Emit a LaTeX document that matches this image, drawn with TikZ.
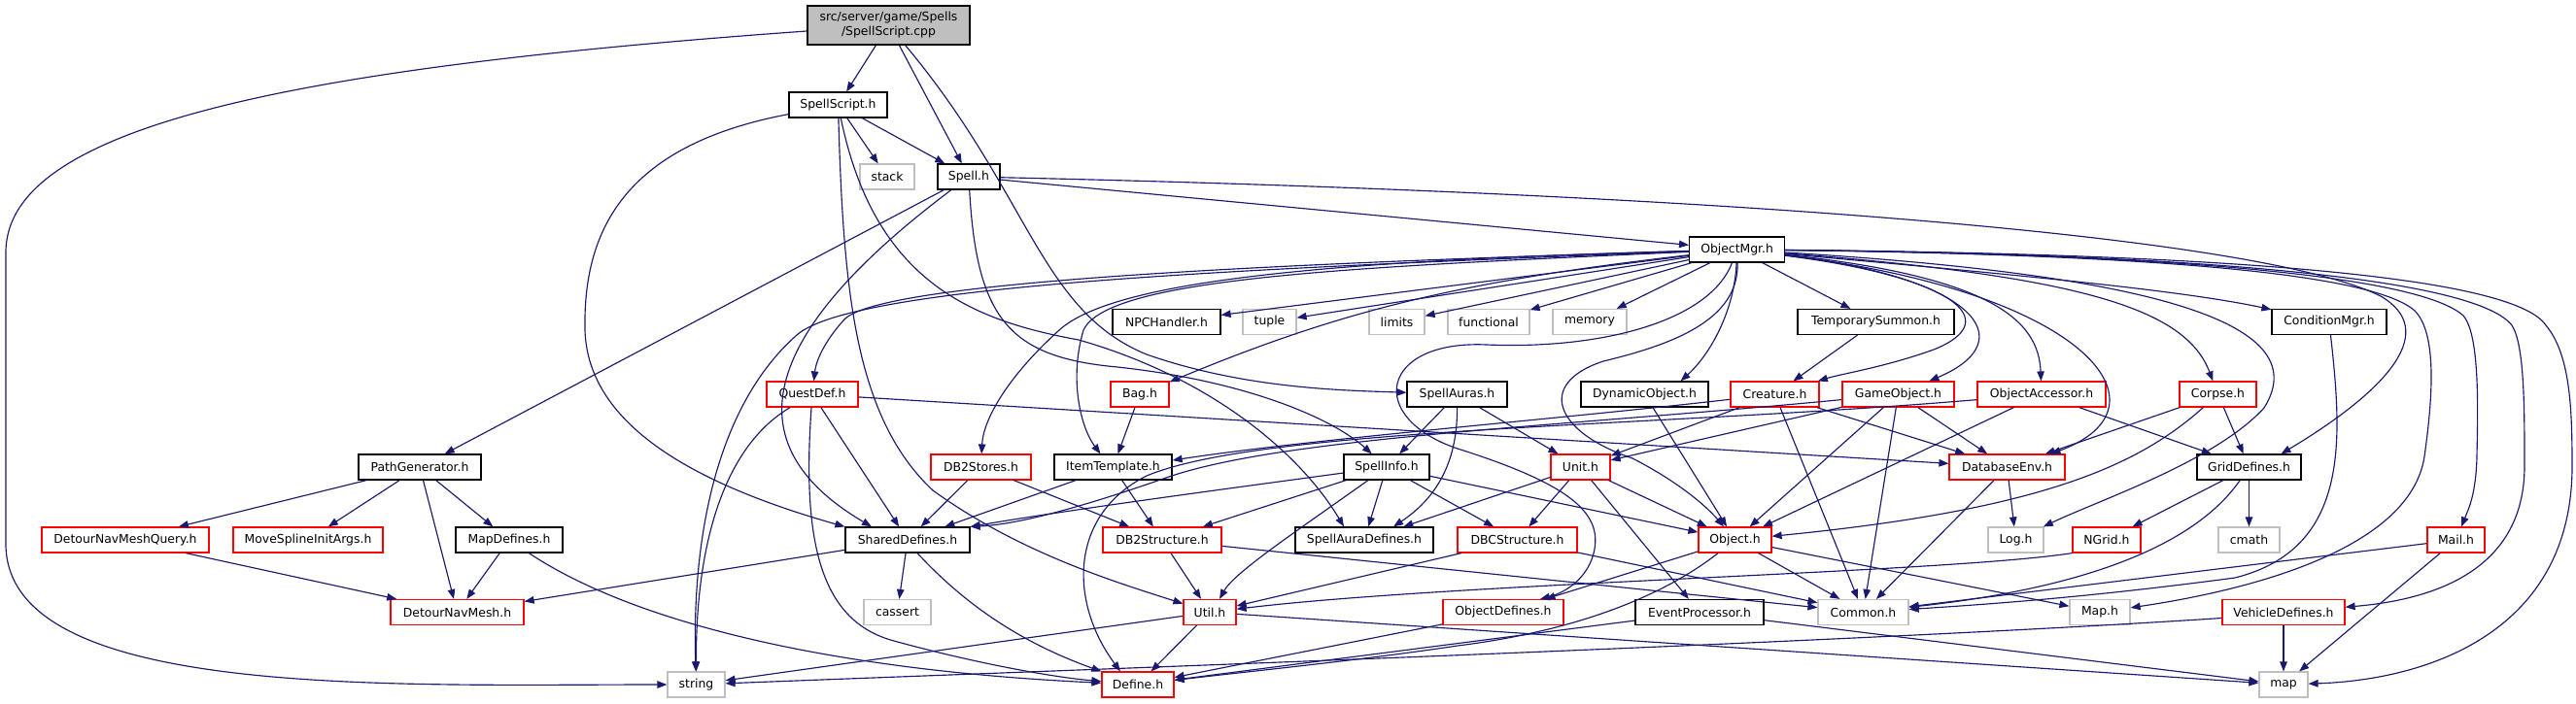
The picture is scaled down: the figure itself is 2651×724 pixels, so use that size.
\documentclass[tikz,border=0pt]{standalone}
\usepackage{fontspec}
\setmainfont{DejaVu Sans}
\usetikzlibrary{arrows.meta}
\definecolor{navy}{HTML}{191970}
\definecolor{sysgray}{HTML}{BFBFBF}
\tikzset{>={Triangle[length=10pt,width=7.5pt]}}
\tikzset{hdr/.style={draw=black, fill=white, line width=1.2pt, minimum height=26pt, inner sep=0pt, font=\fontsize{12.4}{15}\selectfont}}
\tikzset{trunc/.style={hdr, draw=red}}
\tikzset{sys/.style={hdr, draw=sysgray}}
\tikzset{root/.style={hdr, fill=sysgray}}
\tikzset{dep/.style={->, draw=navy, line width=1.15pt}}

\begin{document}
\begin{tikzpicture}[x=1pt,y=-1pt]
      \fill[white] (0,0) rectangle (2651,724);
      \useasboundingbox (0,0) rectangle (2651,724);
      \node[root, minimum width=167pt, minimum height=40pt, align=center] (cpp) at (914.5,26) {src/server/game/Spells\\/SpellScript.cpp};
      \node[hdr, minimum width=101pt] (spellscript) at (862.5,108) {SpellScript.h};
      \node[sys, minimum width=56pt] (stack) at (913,182) {stack};
      \node[hdr, minimum width=64pt] (spell) at (997,182) {Spell.h};
      \node[hdr, minimum width=98pt] (objectmgr) at (1787.6,257) {ObjectMgr.h};
      \node[hdr, minimum width=111pt] (npchandler) at (1200.5,331.5) {NPCHandler.h};
      \node[sys, minimum width=55pt] (tuple) at (1306.5,331.5) {tuple};
      \node[sys, minimum width=57pt] (limits) at (1437.5,331.5) {limits};
      \node[sys, minimum width=84pt] (functional) at (1532,331.5) {functional};
      \node[sys, minimum width=76pt] (memory) at (1636,331.5) {memory};
      \node[hdr, minimum width=161pt] (tempsummon) at (1930.5,331.5) {TemporarySummon.h};
      \node[hdr, minimum width=118pt] (conditionmgr) at (2397,331.5) {ConditionMgr.h};
      \node[trunc, minimum width=94pt] (questdef) at (836,406) {QuestDef.h};
      \node[trunc, minimum width=60pt] (bag) at (1173,406) {Bag.h};
      \node[hdr, minimum width=103pt] (spellauras) at (1499.5,406) {SpellAuras.h};
      \node[hdr, minimum width=131pt] (dynobj) at (1692.5,406) {DynamicObject.h};
      \node[trunc, minimum width=91pt] (creature) at (1826.5,406) {Creature.h};
      \node[trunc, minimum width=115pt] (gameobject) at (1953.5,406) {GameObject.h};
      \node[trunc, minimum width=132pt] (objaccessor) at (2101,406) {ObjectAccessor.h};
      \node[trunc, minimum width=79pt] (corpse) at (2282.5,406) {Corpse.h};
      \node[hdr, minimum width=126pt] (pathgen) at (432,481) {PathGenerator.h};
      \node[trunc, minimum width=103pt] (db2stores) at (1009.5,481) {DB2Stores.h};
      \node[hdr, minimum width=121pt] (itemtemplate) at (1145.5,481) {ItemTemplate.h};
      \node[hdr, minimum width=88pt] (spellinfo) at (1427,481) {SpellInfo.h};
      \node[trunc, minimum width=61pt] (unit) at (1626.5,481) {Unit.h};
      \node[trunc, minimum width=119pt] (dbenv) at (2065.5,481) {DatabaseEnv.h};
      \node[hdr, minimum width=107pt] (griddefines) at (2314.5,481) {GridDefines.h};
      \node[trunc, minimum width=172pt] (navquery) at (129,556) {DetourNavMeshQuery.h};
      \node[trunc, minimum width=154pt] (splineargs) at (317,556) {MoveSplineInitArgs.h};
      \node[hdr, minimum width=110pt] (mapdefines) at (524,556) {MapDefines.h};
      \node[hdr, minimum width=128pt] (shared) at (934,556) {SharedDefines.h};
      \node[trunc, minimum width=122pt] (db2struct) at (1196,556) {DB2Structure.h};
      \node[hdr, minimum width=142pt] (spellauradefines) at (1404,556) {SpellAuraDefines.h};
      \node[trunc, minimum width=123pt] (dbcstruct) at (1561.5,556) {DBCStructure.h};
      \node[trunc, minimum width=75pt] (object) at (1785.5,556) {Object.h};
      \node[sys, minimum width=57pt] (log) at (2074.5,556) {Log.h};
      \node[trunc, minimum width=70pt] (ngrid) at (2168,556) {NGrid.h};
      \node[sys, minimum width=63pt] (cmath) at (2314.5,556) {cmath};
      \node[trunc, minimum width=59pt] (mail) at (2527.5,556) {Mail.h};
      \node[trunc, minimum width=137pt] (detournavmesh) at (470.5,630.5) {DetourNavMesh.h};
      \node[sys, minimum width=69pt] (cassert) at (923.5,630.5) {cassert};
      \node[trunc, minimum width=54pt] (util) at (1245,630.5) {Util.h};
      \node[trunc, minimum width=124pt] (objdefs) at (1547,630.5) {ObjectDefines.h};
      \node[hdr, minimum width=132pt] (eventproc) at (1749,630.5) {EventProcessor.h};
      \node[sys, minimum width=93pt] (common) at (1917.5,630.5) {Common.h};
      \node[sys, minimum width=62pt] (maph) at (2161,630.5) {Map.h};
      \node[trunc, minimum width=126pt] (vehicle) at (2350,630.5) {VehicleDefines.h};
      \node[sys, minimum width=59pt] (string) at (716.5,705) {string};
      \node[trunc, minimum width=74pt] (define) at (1171,705) {Define.h};
      \node[sys, minimum width=50pt] (mapstd) at (2350,705) {map};

      \draw[dep] (cpp) -- (spellscript);
      \draw[dep] (cpp) -- (spell);
      \draw[dep] (cpp) .. controls (1060,200) and (1070,320) .. (1180,365) .. controls (1280,400) and (1380,402) .. (spellauras);
      \draw[dep] (cpp) .. controls (300,70) and (6,130) .. (6,260) -- (6,560) .. controls (6,720) and (400,705) .. (string);
      \draw[dep] (spellscript) -- (stack);
      \draw[dep] (spellscript) -- (spell);
      \draw[dep] (spellscript) .. controls (640,150) and (600,240) .. (602,340) .. controls (605,440) and (720,500) .. (shared.north west);
      \draw[dep] (spellscript) .. controls (868,300) and (880,430) .. (960,505) .. controls (1050,570) and (1150,600) .. (util);
      \draw[dep] (spellscript) .. controls (900,290) and (1000,330) .. (1110,350) .. controls (1250,390) and (1340,470) .. ([xshift=-21pt]spellauradefines.north);
      \draw[dep] (spell) -- (objectmgr);
      \draw[dep] (spell) .. controls (1800,200) and (2330,245) .. (2450,305) .. controls (2510,340) and (2460,400) .. ([xshift=33pt]griddefines.north);
      \draw[dep] (spell) -- (pathgen);
      \draw[dep] (spell) .. controls (800,330) and (740,450) .. ([xshift=-37pt]shared.north);
      \draw[dep] (spell) .. controls (1005,330) and (1040,368) .. (1150,378) .. controls (1280,392) and (1370,430) .. (spellinfo);

      \draw[dep] (objectmgr) -- (npchandler);
      \draw[dep] (objectmgr) -- (tuple);
      \draw[dep] (objectmgr) -- (limits);
      \draw[dep] (objectmgr) -- (functional);
      \draw[dep] (objectmgr) -- (memory);
      \draw[dep] (objectmgr) -- (tempsummon);
      \draw[dep] (objectmgr) .. controls (2100,285) and (2250,300) .. (conditionmgr);
      \draw[dep] (objectmgr) .. controls (2010,285) and (2065,330) .. (1990,360) .. controls (1940,378) and (1895,385) .. (creature);
      \draw[dep] (objectmgr) .. controls (2030,285) and (2085,350) .. (gameobject);
      \draw[dep] (objectmgr) .. controls (2050,285) and (2098,330) .. (objaccessor);
      \draw[dep] (objectmgr) .. controls (2150,300) and (2240,420) .. ([xshift=45pt]dbenv.north);
      \draw[dep] (objectmgr) .. controls (2150,285) and (2250,320) .. (corpse);
      \draw[dep] (objectmgr) .. controls (2250,285) and (2380,340) .. (2330,420) .. controls (2280,475) and (2160,515) .. (log);
      \draw[dep] (objectmgr) .. controls (2200,262) and (2440,280) .. (2485,320) .. controls (2510,345) and (2502,420) .. (2495,470) .. controls (2480,570) and (2300,610) .. (maph);
      \draw[dep] (objectmgr) .. controls (2250,262) and (2490,285) .. (2535,325) .. controls (2552,345) and (2550,420) .. (2549,470) .. controls (2548,510) and (2540,525) .. (mail);
      \draw[dep] (objectmgr) .. controls (2300,262) and (2550,290) .. (2585,335) .. controls (2598,355) and (2598,420) .. (2598,480) .. controls (2598,590) and (2500,618) .. (vehicle);
      \draw[dep] (objectmgr) .. controls (2350,262) and (2590,290) .. (2620,335) .. controls (2645,365) and (2647,420) .. (2647,480) .. controls (2647,650) and (2500,700) .. (mapstd);
      \draw[dep] (objectmgr) .. controls (1785,320) and (1760,365) .. ([xshift=37pt]dynobj.north);
      \draw[dep] (objectmgr) .. controls (1790,330) and (1720,355) .. (1650,372) .. controls (1580,395) and (1600,445) .. (1680,472) .. controls (1725,495) and (1755,520) .. (object);
      \draw[dep] (objectmgr) .. controls (1760,330) and (1650,360) .. (1530,355) .. controls (1420,350) and (1405,430) .. (1500,462) .. controls (1620,500) and (1650,530) .. (1640,570) .. controls (1632,600) and (1605,612) .. ([xshift=38pt]objdefs.north);
      \draw[dep] (objectmgr) .. controls (1500,290) and (1380,320) .. (bag);
      \draw[dep] (objectmgr) .. controls (1400,275) and (1140,285) .. (1115,340) .. controls (1100,390) and (1112,440) .. ([xshift=-13pt]itemtemplate.north);
      \draw[dep] (objectmgr) .. controls (1400,268) and (1150,285) .. (1090,340) .. controls (1040,385) and (1012,430) .. (db2stores);
      \draw[dep] (objectmgr) .. controls (1300,272) and (900,290) .. (868,330) .. controls (850,350) and (840,370) .. (questdef);
      \draw[dep] (objectmgr) .. controls (1300,276) and (880,292) .. (820,345) .. controls (735,420) and (712,560) .. (string);

      \draw[dep] (questdef) .. controls (745,460) and (716,560) .. (string);
      \draw[dep] (questdef) -- (shared);
      \draw[dep] (questdef) .. controls (825,560) and (845,640) .. (920,660) .. controls (1000,682) and (1080,697) .. (define);
      \draw[dep] (questdef) -- (dbenv);
      \draw[dep] (shared) -- (detournavmesh);
      \draw[dep] (shared) -- (cassert);
      \draw[dep] ([xshift=10pt]shared.south) .. controls (1000,630) and (1060,665) .. (define);
      \draw[dep] (pathgen) -- (navquery);
      \draw[dep] (pathgen) -- (splineargs);
      \draw[dep] (pathgen) -- (detournavmesh);
      \draw[dep] (pathgen) -- (mapdefines);
      \draw[dep] (navquery) -- (detournavmesh);
      \draw[dep] (mapdefines) -- (detournavmesh);
      \draw[dep] (mapdefines) .. controls (650,640) and (850,690) .. (define);
      \draw[dep] (db2stores) -- (shared);
      \draw[dep] (db2stores) -- (db2struct);
      \draw[dep] (itemtemplate) -- (shared);
      \draw[dep] (itemtemplate) -- (db2struct);
      \draw[dep] (bag) -- (itemtemplate);

      \draw[dep] (spellauras) -- (spellinfo);
      \draw[dep] (spellauras) .. controls (1500,480) and (1475,515) .. ([xshift=30pt]spellauradefines.north);
      \draw[dep] (spellauras) -- (unit);
      \draw[dep] (spellinfo) .. controls (1250,505) and (1100,525) .. (shared.north east);
      \draw[dep] (spellinfo) -- (db2struct);
      \draw[dep] (spellinfo) .. controls (1330,550) and (1270,590) .. ([xshift=10pt]util.north);
      \draw[dep] (spellinfo) -- (spellauradefines);
      \draw[dep] (spellinfo) -- (dbcstruct);
      \draw[dep] (spellinfo) -- (object);
      \draw[dep] (unit) -- (spellauradefines);
      \draw[dep] (unit) -- (dbcstruct);
      \draw[dep] (unit) -- (object);
      \draw[dep] (unit) -- (eventproc);
      \draw[dep] (dynobj) -- (object);
      \draw[dep] (creature) -- (unit);
      \draw[dep] (creature) .. controls (1600,432) and (1350,452) .. ([yshift=7pt]itemtemplate.east);
      \draw[dep] (creature) -- (common);
      \draw[dep] (creature) -- (dbenv);
      \draw[dep] (tempsummon) -- (creature);
      \draw[dep] (gameobject) -- (unit);
      \draw[dep] (gameobject) .. controls (1600,440) and (1320,450) .. (1200,492) .. controls (1120,520) and (1050,540) .. (shared.north east);
      \draw[dep] (gameobject) -- (object);
      \draw[dep] (gameobject) -- (common);
      \draw[dep] (gameobject) -- (dbenv);
      \draw[dep] (objaccessor) -- (object);
      \draw[dep] (objaccessor) -- (griddefines);
      \draw[dep] (objaccessor) .. controls (1700,440) and (1300,440) .. (1180,490) .. controls (1100,530) and (1100,620) .. ([xshift=-18pt]define.north);
      \draw[dep] (corpse) .. controls (2200,480) and (2100,525) .. (object);
      \draw[dep] (corpse) -- (dbenv);
      \draw[dep] (corpse) -- (griddefines);
      \draw[dep] (conditionmgr) .. controls (2410,450) and (2420,565) .. (2300,595) .. controls (2150,615) and (2050,622) .. (common);

      \draw[dep] (dbenv) -- (log);
      \draw[dep] (dbenv) -- (common);
      \draw[dep] (griddefines) -- (ngrid);
      \draw[dep] (griddefines) -- (cmath);
      \draw[dep] (griddefines) .. controls (2260,560) and (2150,605) .. (common);
      \draw[dep] (ngrid.south west) .. controls (2000,590) and (1500,600) .. (util);
      \draw[dep] (mail) -- (mapstd);
      \draw[dep] (mail) -- (common);
      \draw[dep] (vehicle) -- (mapstd);
      \draw[dep] ([yshift=-6pt]vehicle.west) .. controls (1900,662) and (1100,690) .. (string);
      \draw[dep] (object) -- (objdefs);
      \draw[dep] (object) -- (common);
      \draw[dep] (object) -- (maph);
      \draw[dep] (object) .. controls (1710,615) and (1620,650) .. (1500,665) .. controls (1400,680) and (1280,692) .. (define);
      \draw[dep] (db2struct) -- (util);
      \draw[dep] (db2struct) -- (common);
      \draw[dep] (dbcstruct) -- (util);
      \draw[dep] (dbcstruct) -- (common);
      \draw[dep] (util) -- (define);
      \draw[dep] (util) -- (string);
      \draw[dep] (util) -- (mapstd);
      \draw[dep] (objdefs) -- (define);
      \draw[dep] (eventproc) -- (define);
      \draw[dep] (eventproc) -- (mapstd);
\end{tikzpicture}
\end{document}
